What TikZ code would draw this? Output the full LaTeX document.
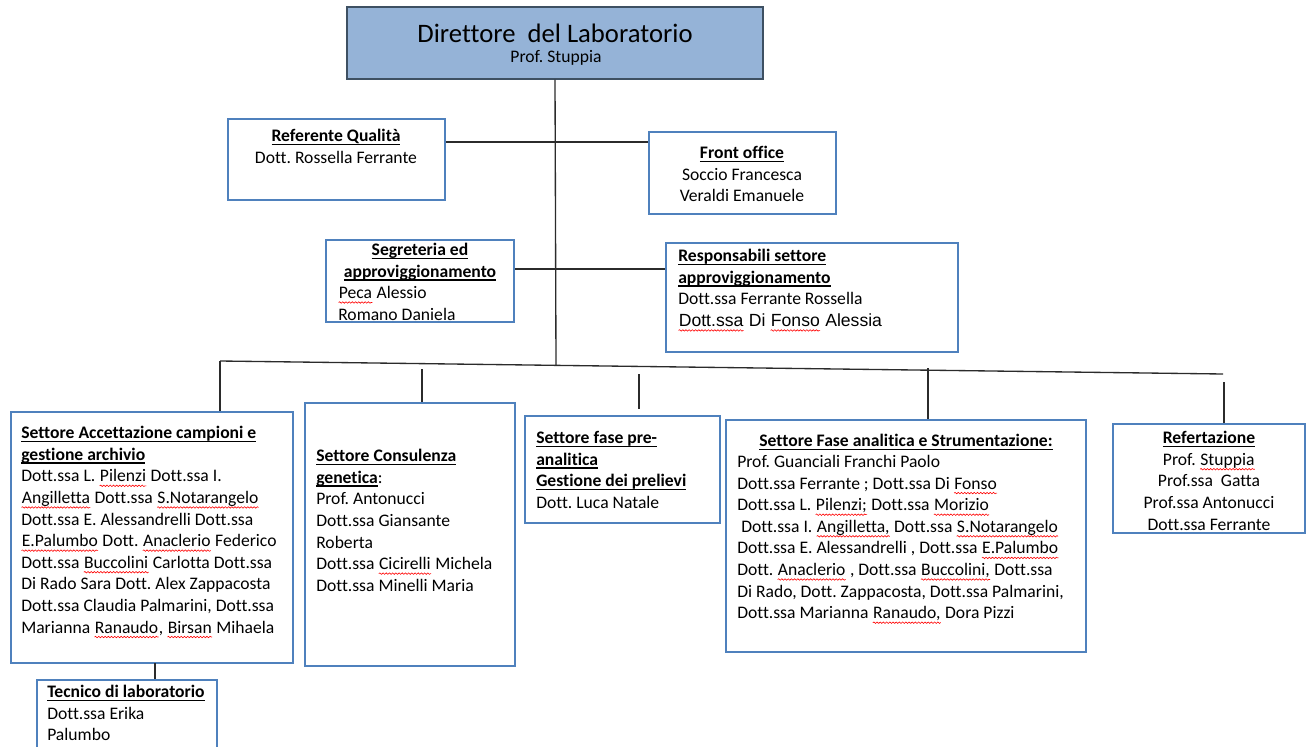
\documentclass[tikz,border=0pt]{standalone}
\usepackage{fontspec}
\setmainfont{Carlito}[Ligatures=NoCommon]
\newfontfamily\arialfont{Liberation Sans}
\frenchspacing
\usetikzlibrary{fit,decorations.pathmorphing}
\definecolor{boxblue}{HTML}{4F81BD}
\definecolor{dirfill}{HTML}{95B3D7}
\definecolor{dirline}{HTML}{3E5062}
\definecolor{linkgray}{HTML}{2B2B2B}
\newcommand\ttl[1]{\setbox0\hbox{\textbf{#1}}\rlap{\vrule width\wd0 height -1.7pt depth 2.6pt}\box0}
\newcommand\spl[1]{\tikz[baseline=(w.base)]{\node[inner sep=0pt, anchor=base west, align=left] (w) at (0,0) {#1};
  \draw[red, line width=0.45pt, decorate, decoration={snake, amplitude=0.55pt, segment length=2.4pt}] ([yshift=-3pt]w.base west) -- ([yshift=-3pt]w.base east);}}
\tikzset{
  orgbox/.style={draw=boxblue, line width=1.7pt, inner sep=0pt, fit={#1}},
  dirbox/.style={draw=dirline, fill=dirfill, line width=1.1pt, inner sep=0pt, fit={#1}},
  txt/.style={inner sep=0pt, align=left, font=\fontsize{13.2}{16.2}\selectfont},
  ctxt/.style={txt, align=center},
  link/.style={draw=linkgray, line width=1pt}
}
\begin{document}
\begin{tikzpicture}[x=0.75pt,y=-0.75pt]
\useasboundingbox (0,0) rectangle (1309,746);

\node[dirbox={(347,7) (763,79)}] (dir) {};
\node[font=\fontsize{20}{24}\selectfont, inner sep=0pt] (dirT) at (555,33) {Direttore\ \ del Laboratorio};
\node[ctxt] (dirS) at (556,58) {Prof. Stuppia};

\node[orgbox={(228,119) (445,200)}] (ref) {};
\node[ctxt, anchor=north] (refT) at (336,129) {\ttl{Referente Qualità}\\Dott. Rossella Ferrante};

\node[orgbox={(649,132) (836,214)}] (front) {};
\node[ctxt, anchor=north] (frontT) at (742,146) {\ttl{Front office}\\Soccio Francesca\\Veraldi Emanuele};

\node[orgbox={(326,240) (514,322)}] (seg) {};
\node[ctxt, anchor=north] (segT) at (420,243) {\ttl{Segreteria ed}\\\ttl{approviggionamento}};
\node[txt, anchor=north west] (segN) at (338,286) {\spl{Peca} Alessio\\Romano Daniela};

\node[orgbox={(666,243) (958,352)}] (resp) {};
\node[txt, anchor=north west] (respT) at (678,249) {\ttl{Responsabili settore}\\\ttl{approviggionamento}\\Dott.ssa Ferrante Rossella\\{\arialfont\spl{Dott.ssa} Di \spl{Fonso} Alessia}};

\node[orgbox={(11,412) (293,663)}] (acc) {};
\node[txt, anchor=north west] (accT) at (21,426) {\ttl{Settore Accettazione campioni e}\\
\ttl{gestione archivio}\\
Dott.ssa L. \spl{Pilenzi} Dott.ssa I.\\
\spl{Angilletta} Dott.ssa \spl{S.Notarangelo}\\
Dott.ssa E. Alessandrelli Dott.ssa\\
\spl{E.Palumbo} Dott. \spl{Anaclerio} Federico\\
Dott.ssa \spl{Buccolini} Carlotta Dott.ssa\\
Di Rado Sara Dott. Alex Zappacosta\\
Dott.ssa Claudia Palmarini, Dott.ssa\\
Marianna \spl{Ranaudo}, \spl{Birsan} Mihaela};

\node[orgbox={(37,680) (217,760)}] (tec) {};
\node[txt, anchor=north west] (tecT) at (47,685) {\ttl{Tecnico di laboratorio}\\Dott.ssa Erika\\Palumbo};

\node[orgbox={(305,403) (515,666)}] (cons) {};
\node[txt, anchor=north west] (consT) at (316,449) {\ttl{Settore Consulenza}\\
\ttl{genetica}:\\
Prof. Antonucci\\
Dott.ssa Giansante\\
Roberta\\
Dott.ssa \spl{Cicirelli} Michela\\
Dott.ssa Minelli Maria};

\node[orgbox={(525,416) (720,523)}] (pre) {};
\node[txt, anchor=north west] (preT) at (536,431) {\ttl{Settore fase pre-}\\
\ttl{analitica}\\
\ttl{Gestione dei prelievi}\\
Dott. Luca Natale};

\node[orgbox={(726,420) (1086,652)}] (ana) {};
\node[ctxt, anchor=north] (anaT) at (906,434) {\ttl{Settore Fase analitica e Strumentazione:}};
\node[txt, anchor=north west] (anaN) at (737,455) {Prof. Guanciali Franchi Paolo\\
Dott.ssa Ferrante ; Dott.ssa Di \spl{Fonso}\\
Dott.ssa L. \spl{Pilenzi;} Dott.ssa \spl{Morizio}\\
\hspace{3pt}Dott.ssa I. \spl{Angilletta,} Dott.ssa \spl{S.Notarangelo}\\
Dott.ssa E. Alessandrelli , Dott.ssa \spl{E.Palumbo}\\
Dott. \spl{Anaclerio} , Dott.ssa \spl{Buccolini,} Dott.ssa\\
Di Rado, Dott. Zappacosta, Dott.ssa Palmarini,\\
Dott.ssa Marianna \spl{Ranaudo,} Dora Pizzi};

\node[orgbox={(1113,424) (1305,533)}] (refe) {};
\node[ctxt, anchor=north] (refeT) at (1209,431) {\ttl{Refertazione}\\
Prof. \spl{Stuppia}\\
Prof.ssa\ \ Gatta\\
Prof.ssa Antonucci\\
Dott.ssa Ferrante};

\coordinate (busL) at (220,361);
\coordinate (busM) at (556,365);
\coordinate (busR) at (1223,374);
\coordinate (s2) at (422,369);
\coordinate (s3) at (639,374);
\coordinate (s3e) at (639,409);
\coordinate (s4) at (928,368);
\coordinate (s5) at (1224,382);
\coordinate (t1) at (155,663);

\draw[link] (dir.south) -- (busM);
\draw[link] (ref.east |- 0,142) -- (front.west |- 0,142);
\draw[link] (seg.east |- 0,269) -- (resp.west |- 0,269);
\draw[link] (busL) -- (busR);
\draw[link] (busL) -- (busL |- acc.north);
\draw[link] (s2) -- (s2 |- cons.north);
\draw[link] (s3) -- (s3e);
\draw[link] (s4) -- (s4 |- ana.north);
\draw[link] (s5) -- (s5 |- refe.north);
\draw[link] (t1) -- (t1 |- tec.north);
\end{tikzpicture}
\end{document}
